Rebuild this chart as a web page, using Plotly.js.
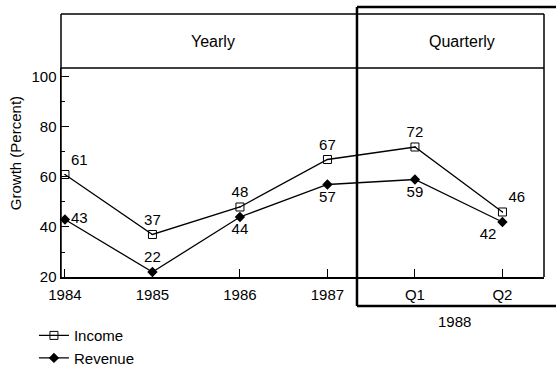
<!DOCTYPE html>
<html><head><meta charset="utf-8">
<script src="https://cdn.plot.ly/plotly-3.0.1.min.js"></script>
<style>html,body{margin:0;padding:0;background:#fff}#chart{width:556px;height:366px}</style>
</head><body><div id="chart"></div>
<script>
var periods = ['1984','1985','1986','1987','Q1','Q2'];
var incomeValues = [61, 37, 48, 67, 72, 46];
var revenueValues = [43, 22, 44, 57, 59, 42];
var yTicks = [20, 40, 60, 80, 100];

var idx = periods.map(function(_, i){ return i; });
var FONT = 'Liberation Sans, Arial, Helvetica, sans-serif';

var income = {
  x: idx, y: incomeValues, name: 'Income', type: 'scatter', mode: 'lines+markers+text',
  text: incomeValues.map(String),
  textposition: ['top right','top center','top center','top center','top center','top right'],
  textfont: {family: FONT, size: 15, color: '#000'},
  line: {color: '#000', width: 1.3},
  marker: {symbol: 'square-open-dot', size: 8, color: '#000', line: {width: 1, color: '#000'}},
  cliponaxis: false
};
var revenue = {
  x: idx, y: revenueValues, name: 'Revenue', type: 'scatter', mode: 'lines+markers+text',
  text: revenueValues.map(String),
  textposition: ['middle right','top center','bottom center','bottom center','bottom center','bottom left'],
  textfont: {family: FONT, size: 15, color: '#000'},
  line: {color: '#000', width: 1.3},
  marker: {symbol: 'diamond', size: 8, color: '#000'},
  cliponaxis: false
};

var hdr = 0.7947;
var layout = {
  width: 556, height: 366,
  margin: {l: 61, r: 12, t: 14, b: 89},
  paper_bgcolor: '#fff', plot_bgcolor: '#fff',
  font: {family: FONT, size: 15, color: '#000'},
  showlegend: true,
  legend: {xref: 'paper', yref: 'container', x: -0.056, y: 0.128, xanchor: 'left', yanchor: 'top',
           bgcolor: 'rgba(0,0,0,0)', font: {family: FONT, size: 15, color: '#000'}, tracegroupgap: 0},
  xaxis: {
    range: [-0.045, 5.475], tickvals: idx, ticktext: periods,
    showgrid: false, zeroline: false, showline: true, linecolor: '#000', linewidth: 1.5,
    ticks: 'inside', ticklen: 8, tickcolor: '#000', tickwidth: 1, ticklabelstandoff: 3,
    tickfont: {family: FONT, size: 15, color: '#000'}, fixedrange: true
  },
  yaxis: {
    domain: [0, hdr], range: [20, 103.6], tickvals: yTicks,
    showgrid: false, zeroline: false, showline: true, linecolor: '#000', linewidth: 1.5,
    ticks: 'inside', ticklen: 8, tickcolor: '#000', tickwidth: 1,
    minor: {dtick: 10, tick0: 0, ticks: 'inside', ticklen: 4, tickcolor: '#000', tickwidth: 1, showgrid: false},
    tickfont: {family: FONT, size: 15, color: '#000'}, fixedrange: true
  },
  shapes: [
    {type: 'line', xref: 'paper', yref: 'paper', x0: 0, x1: 0, y0: 0, y1: 1, line: {color: '#000', width: 1.5}},
    {type: 'line', xref: 'paper', yref: 'paper', x0: 0, x1: 1, y0: 1, y1: 1, line: {color: '#000', width: 1.5}},
    {type: 'line', xref: 'paper', yref: 'paper', x0: 1, x1: 1, y0: 0, y1: 1, line: {color: '#000', width: 1.5}},
    {type: 'line', xref: 'paper', yref: 'paper', x0: 0, x1: 1, y0: hdr, y1: hdr, line: {color: '#000', width: 1.5}},
    {type: 'line', xref: 'paper', yref: 'paper', x0: 0.6128, x1: 0.6128, y0: -0.110, y1: 1.0266, line: {color: '#000', width: 2.5}},
    {type: 'line', xref: 'paper', yref: 'paper', x0: 0.6128, x1: 1.1, y0: 1.0266, y1: 1.0266, line: {color: '#000', width: 2.5}},
    {type: 'line', xref: 'paper', yref: 'paper', x0: 0.6128, x1: 1.1, y0: -0.110, y1: -0.110, line: {color: '#000', width: 2.5}}
  ],
  annotations: [
    {text: 'Yearly', xref: 'paper', yref: 'paper', x: 0.3147, y: 0.897, xanchor: 'center', yanchor: 'middle', showarrow: false, font: {family: FONT, size: 16, color: '#000'}},
    {text: 'Quarterly', xref: 'paper', yref: 'paper', x: 0.830, y: 0.897, xanchor: 'center', yanchor: 'middle', showarrow: false, font: {family: FONT, size: 16, color: '#000'}},
    {text: '1988', xref: 'paper', yref: 'paper', x: 0.8137, y: -0.171, xanchor: 'center', yanchor: 'middle', showarrow: false, font: {family: FONT, size: 15, color: '#000'}},
    {text: 'Growth (Percent)', xref: 'paper', yref: 'paper', x: -0.0952, y: 0.471, xanchor: 'center', yanchor: 'middle', textangle: -90, showarrow: false, font: {family: FONT, size: 15, color: '#000'}}
  ]
};

Plotly.newPlot('chart', [income, revenue], layout, {displayModeBar: false, staticPlot: true});
</script>
</body></html>
